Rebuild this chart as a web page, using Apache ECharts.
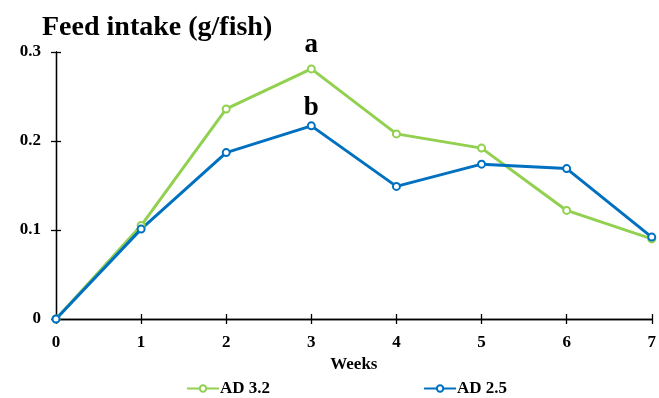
<!DOCTYPE html>
<html><head><meta charset="utf-8">
<script src="https://cdn.jsdelivr.net/npm/echarts@6/dist/echarts.min.js"></script>
<style>html,body{margin:0;padding:0;background:#fff}#c{width:659px;height:398px}</style>
</head><body><div id="c"></div>
<script>
const weeks = ['0','1','2','3','4','5','6','7'];
const ad32 = [0, 0.105, 0.236, 0.281, 0.208, 0.192, 0.122, 0.090];
const ad25 = [0, 0.101, 0.187, 0.217, 0.149, 0.174, 0.169, 0.092];
const yTicks = [0, 0.1, 0.2, 0.3];
const sigLetters = {3: ['a', 'b']};

const FONT = '"Liberation Serif", "DejaVu Serif", serif';
function withLetters(vals, idx) {
  return vals.map((v, i) => sigLetters[i] ? {value: v, label: {show: true, formatter: sigLetters[i][idx]}} : v);
}
const chart = echarts.init(document.getElementById('c'));
const xBase = {type: 'category', data: weeks, boundaryGap: false,
  axisLine: {lineStyle: {color: '#000', width: 1.3}}, splitLine: {show: false}};
const yBase = {type: 'value', min: 0, max: 0.3, interval: 0.1,
  axisLine: {show: true, lineStyle: {color: '#000', width: 1.3}}, splitLine: {show: false}};
chart.setOption({
  animation: false,
  title: {text: 'Feed intake (g/fish)', left: 37, top: 9,
    textStyle: {fontFamily: FONT, fontWeight: 'bold', fontSize: 28, color: '#000'}},
  grid: {left: 56, right: 6, top: 52, bottom: 79},
  xAxis: [
    Object.assign({}, xBase, {name: 'Weeks', nameLocation: 'middle', nameGap: 36,
      nameTextStyle: {fontFamily: FONT, fontWeight: 'bold', fontSize: 17, color: '#000'},
      axisTick: {show: true, length: 5, alignWithLabel: true, lineStyle: {color: '#000', width: 1.3}},
      axisLabel: {fontFamily: FONT, fontWeight: 'bold', fontSize: 17, color: '#000', margin: 15}}),
    Object.assign({}, xBase, {position: 'bottom', axisTick: {show: true, inside: true, length: 5, lineStyle: {color: '#000', width: 1.3}},
      axisLabel: {show: false}})
  ],
  yAxis: [
    Object.assign({}, yBase, {
      axisTick: {show: true, length: 5, lineStyle: {color: '#000', width: 1.3}},
      axisLabel: {fontFamily: FONT, fontWeight: 'bold', fontSize: 17, color: '#000', margin: 15,
        formatter: v => yTicks.includes(Math.round(v*10)/10) ? String(Math.round(v*10)/10) : ''}}),
    Object.assign({}, yBase, {position: 'left', axisTick: {show: true, inside: true, length: 5, lineStyle: {color: '#000', width: 1.3}},
      axisLabel: {show: false}})
  ],
  legend: {bottom: 1, left: 186, padding: 0, itemGap: 153, itemWidth: 32, itemHeight: 8,
    textStyle: {fontFamily: FONT, fontWeight: 'bold', fontSize: 17, color: '#000', padding: [0,0,0,-4]},
    data: ['AD 3.2', 'AD 2.5']},
  series: [
    {name: 'AD 3.2', type: 'line', data: withLetters(ad32, 0), symbol: 'emptyCircle', symbolSize: 7,
      color: '#92D050', lineStyle: {width: 3, color: '#92D050'}, itemStyle: {color: '#92D050', borderWidth: 2},
      label: {show: false, position: 'top', distance: 6, fontFamily: FONT, fontWeight: 'bold', fontSize: 27, color: '#000'}},
    {name: 'AD 2.5', type: 'line', data: withLetters(ad25, 1), symbol: 'emptyCircle', symbolSize: 7,
      color: '#0070C0', lineStyle: {width: 3, color: '#0070C0'}, itemStyle: {color: '#0070C0', borderWidth: 2},
      label: {show: false, position: 'top', distance: 0, fontFamily: FONT, fontWeight: 'bold', fontSize: 27, color: '#000'}}
  ]
});
</script></body></html>
